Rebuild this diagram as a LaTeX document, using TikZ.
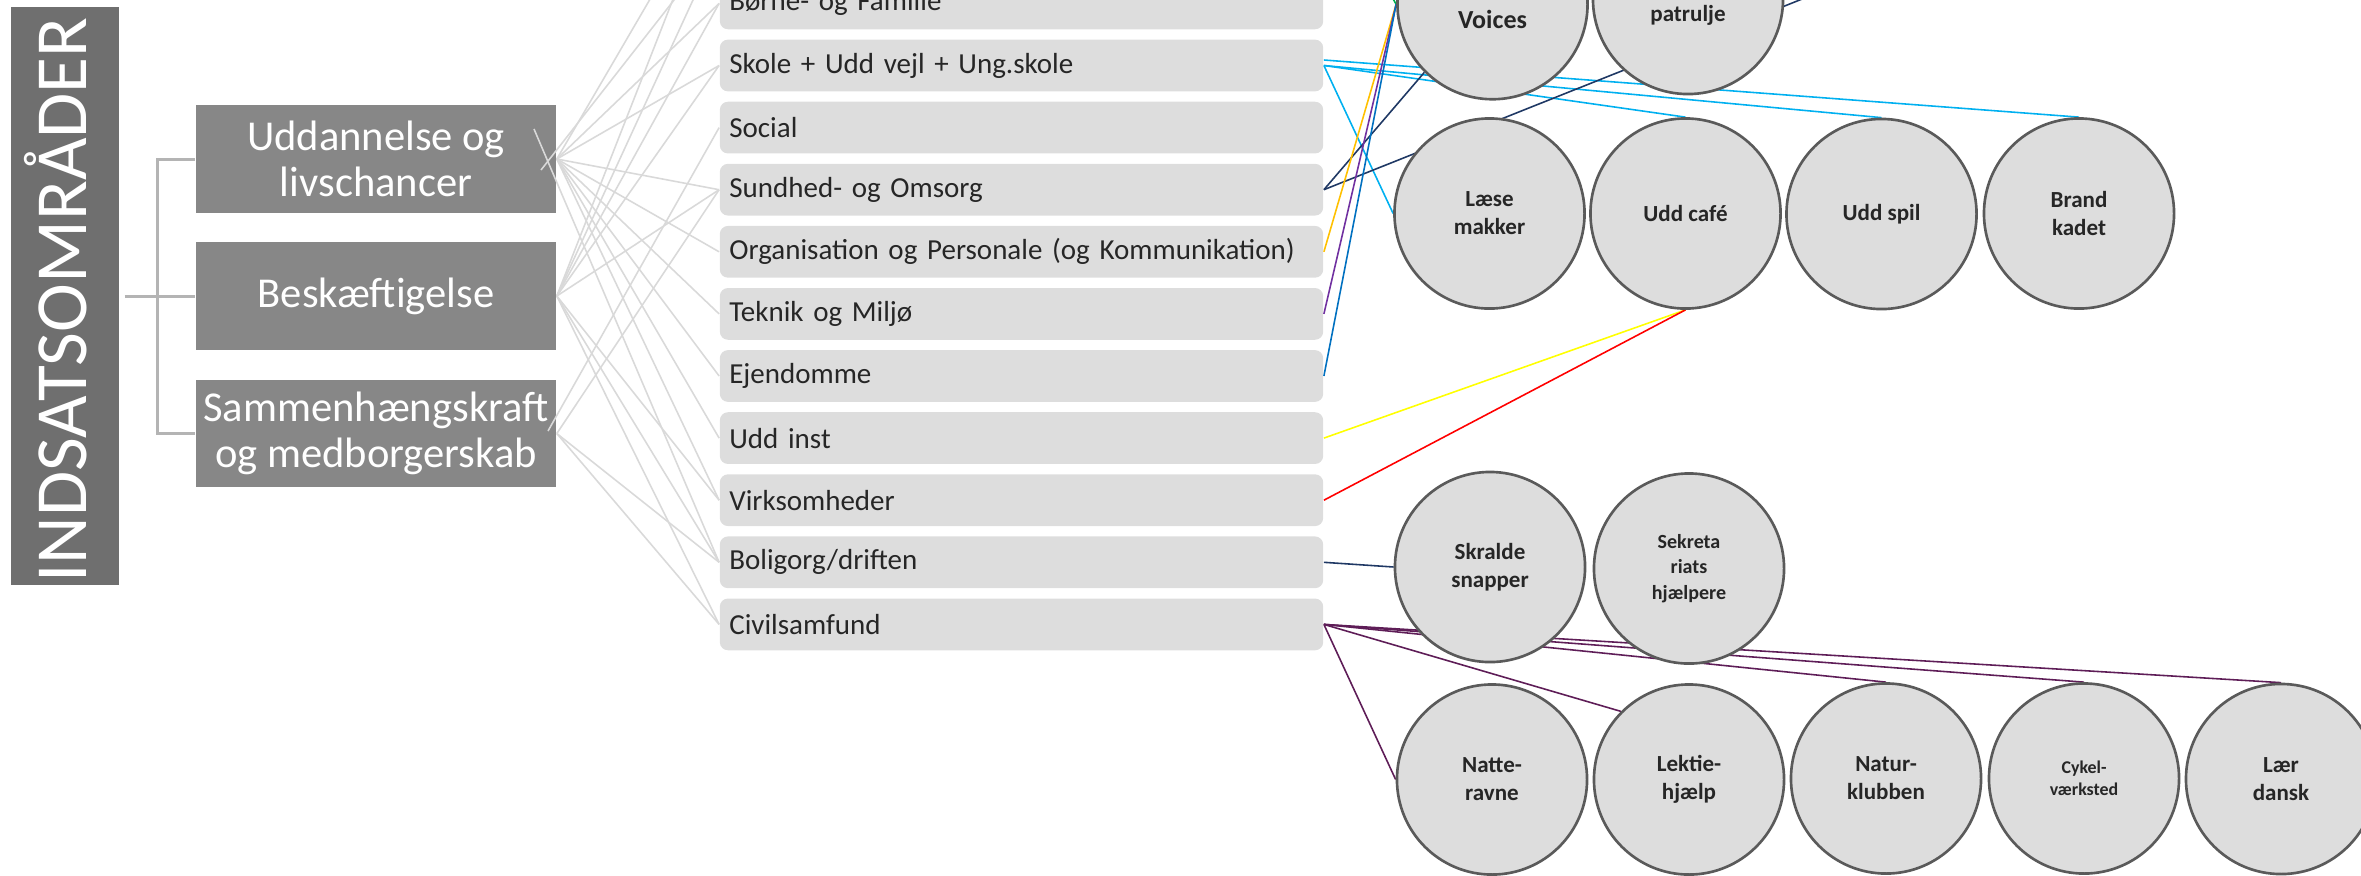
\documentclass[tikz,border=0pt]{standalone}
\usepackage{fontspec}
\setmainfont{Carlito}
\usepackage{xcolor}
\definecolor{k1}{HTML}{6F6F6F}
\definecolor{k2}{HTML}{878787}
\definecolor{k3}{HTML}{DDDDDD}
\definecolor{k4}{HTML}{D9D9D9}
\definecolor{k5}{HTML}{5A5A5A}
\definecolor{k6}{HTML}{B4B4B4}
\definecolor{t1}{HTML}{262626}
\definecolor{c1}{HTML}{00B0F0}
\definecolor{n1}{HTML}{1F3864}
\definecolor{o1}{HTML}{FFC000}
\definecolor{p1}{HTML}{7030A0}
\definecolor{b1}{HTML}{0070C0}
\definecolor{g1}{HTML}{00B050}
\definecolor{y1}{HTML}{FFFF00}
\definecolor{r1}{HTML}{FF0000}
\definecolor{m1}{HTML}{5E1D57}
\usetikzlibrary{backgrounds}

\tikzset{
  omr/.style={fill=k2,minimum width=3.6cm,minimum height=1.07cm,inner sep=0pt,
    text=white,align=center,font=\fontsize{12.1}{12.9}\selectfont},
  forv/.style={fill=k3,rounded corners=2.3pt,minimum height=0.517cm,text width=5.84cm,
    inner xsep=0.095cm,inner ysep=0pt,align=left,text=t1,font=\fontsize{8.25}{9.5}\selectfont},
  akt/.style={circle,fill=k3,draw=k5,line width=0.75pt,minimum size=1.9cm,inner sep=0pt,
    text=t1,align=center,font=\bfseries\fontsize{6.55}{8}\selectfont},
  akttxt/.style={text=t1,inner sep=0pt,font=\bfseries\fontsize{6.55}{8}\selectfont},
  klamme/.style={draw=k6,line width=0.85pt},
  forb/.style={draw=k4,line width=0.45pt},
  lnk/.style={line width=0.45pt}
}

\begin{document}
\begin{tikzpicture}[x=0.01cm,y=-0.01cm]
  \useasboundingbox (0,0) rectangle (2361,875);
  \clip (0,0) rectangle (2361,875);

  % indsatsomraader
  \node[fill=k1,minimum width=1.08cm,minimum height=5.77cm,inner sep=0pt] (indsats) at (65,296) {};
  \node[rotate=90,anchor=base,text=white,font=\fontsize{20.9}{24}\selectfont] (indsatstxt) at (87,300) {INDSATSOMRÅDER};
  \node[omr] (uddannelse) at (376,159) {Uddannelse og\\livschancer};
  \node[omr] (beskaeft) at (376,296) {Beskæftigelse};
  \node[omr] (sammen) at (376,433.5) {Sammenhængskraft\\og medborgerskab};
  \draw[klamme,shorten <=1.4pt] (indsats.east) -- (beskaeft.west);
  \draw[klamme] (uddannelse.west) -- ++(-38,0) |- (sammen.west);

  % forvaltninger
  \node[forv] (boerne) at (1021.5,3.4) {Børne- og Familie};
  \node[forv] (skole) at (1021.5,65.5) {Skole + Udd vejl + Ung.skole};
  \node[forv] (social) at (1021.5,127.6) {Social};
  \node[forv] (sundhed) at (1021.5,189.7) {Sundhed- og Omsorg};
  \node[forv] (org) at (1021.5,251.8) {Organisation og Personale (og Kommunikation)};
  \node[forv] (teknik) at (1021.5,313.9) {Teknik og Miljø};
  \node[forv] (ejendomme) at (1021.5,376) {Ejendomme};
  \node[forv] (uddinst) at (1021.5,438.1) {Udd inst};
  \node[forv] (virks) at (1021.5,500.2) {Virksomheder};
  \node[forv] (bolig) at (1021.5,562.3) {Boligorg/driften};
  \node[forv] (civil) at (1021.5,624.4) {Civilsamfund};
  % boxes above the cut
  \coordinate (over1) at (720,-58.7);
  \coordinate (over2) at (720,-120.8);
  \coordinate (over2e) at (1323,-120.8);

  % aktiviteter
  \node[akt] (voices) at (1492.5,4.2) {};
  \node[akttxt,anchor=base,font=\bfseries\fontsize{7.4}{9}\selectfont] (voicestxt) at (1492.5,28.7) {Voices};
  \node[akt] (patrulje) at (1688,-1) {};
  \node[akttxt,anchor=base] (patruljetxt) at (1688,21.7) {patrulje};
  \node[akt] (laese) at (1489.5,213.5) {Læse\\makker};
  \node[akt] (uddcafe) at (1685.5,213.5) {Udd café};
  \node[akt] (uddspil) at (1881.5,214) {Udd spil};
  \node[akt] (brand) at (2079,213.5) {Brand\\kadet};
  \node[akt] (skralde) at (1490,567) {Skralde\\snapper};
  \node[akt,font=\bfseries\fontsize{5.7}{7.25}\selectfont] (sekretariat) at (1689,568.5) {Sekreta\\riats\\hjælpere};
  \node[akt] (natte) at (1492,779.5) {Natte-\\ravne};
  \node[akt] (lektie) at (1689,779.5) {Lektie-\\hjælp};
  \node[akt] (natur) at (1886,778.5) {Natur-\\klubben};
  \node[akt,font=\bfseries\fontsize{5.1}{6.2}\selectfont] (cykel) at (2084,778.5) {Cykel-\\værksted};
  \node[akt] (laer) at (2281,779) {Lær\\dansk};

  % grey links
  \coordinate (uddX1) at (534,129);
  \coordinate (uddX2) at (541,170);
  \coordinate (samX) at (548,431);
  \draw[forb] (uddannelse.east) -- (over2);
  \draw[forb] (uddX2) -- (over1);
  \draw[forb] (uddannelse.east) -- (boerne.west);
  \draw[forb] (uddannelse.east) -- (skole.west);
  \draw[forb] (uddannelse.east) -- (sundhed.west);
  \draw[forb] (uddannelse.east) -- (org.west);
  \draw[forb] (uddannelse.east) -- (teknik.west);
  \draw[forb] (uddannelse.east) -- (ejendomme.west);
  \draw[forb] (uddannelse.east) -- (uddinst.west);
  \draw[forb] (uddannelse.east) -- (virks.west);
  \draw[forb] (uddX1) -- (bolig.west);
  \draw[forb] (beskaeft.east) -- (over2);
  \draw[forb] (beskaeft.east) -- (over1);
  \draw[forb] (beskaeft.east) -- (boerne.west);
  \draw[forb] (beskaeft.east) -- (skole.west);
  \draw[forb] (beskaeft.east) -- (sundhed.west);
  \draw[forb] (beskaeft.east) -- (virks.west);
  \draw[forb] (beskaeft.east) -- (bolig.west);
  \draw[forb] (beskaeft.east) -- (civil.west);
  \draw[forb] (samX) -- (social.west);
  \draw[forb] (sammen.east) -- (sundhed.west);
  \draw[forb] (sammen.east) -- (bolig.west);
  \draw[forb] (sammen.east) -- (civil.west);

  % coloured links, behind the circles
  \begin{pgfonlayer}{background}
    \clip (0,0) rectangle (2361,875);
    \coordinate (navyend) at (1900,-40);
    \draw[lnk,c1] ([yshift=0.055cm]skole.east) -- (brand.north);
    \draw[lnk,c1] (skole.east) -- (uddspil.north);
    \draw[lnk,c1] (skole.east) -- (uddcafe.north);
    \draw[lnk,c1] (skole.east) -- (laese.west);
    \draw[lnk,n1] (sundhed.east) -- (voices.225);
    \draw[lnk,n1] (sundhed.east) -- (navyend);
    \draw[lnk,g1] (over2e) -- (voices.west);
    \draw[lnk,o1] (org.east) -- (voices.west);
    \draw[lnk,p1] (teknik.east) -- (voices.west);
    \draw[lnk,b1] (ejendomme.east) -- (voices.west);
    \draw[lnk,y1] (uddinst.east) -- (uddcafe.south);
    \draw[lnk,r1] (virks.east) -- (uddcafe.south);
    \draw[lnk,n1] (bolig.east) -- (skralde.west);
    \draw[lnk,m1] (civil.east) -- (natte.west);
    \draw[lnk,m1] (civil.east) -- (lektie.135);
    \draw[lnk,m1] (civil.east) -- (natur.north);
    \draw[lnk,m1] (civil.east) -- (cykel.north);
    \draw[lnk,m1] (civil.east) -- (laer.north);
  \end{pgfonlayer}
\end{tikzpicture}
\end{document}
